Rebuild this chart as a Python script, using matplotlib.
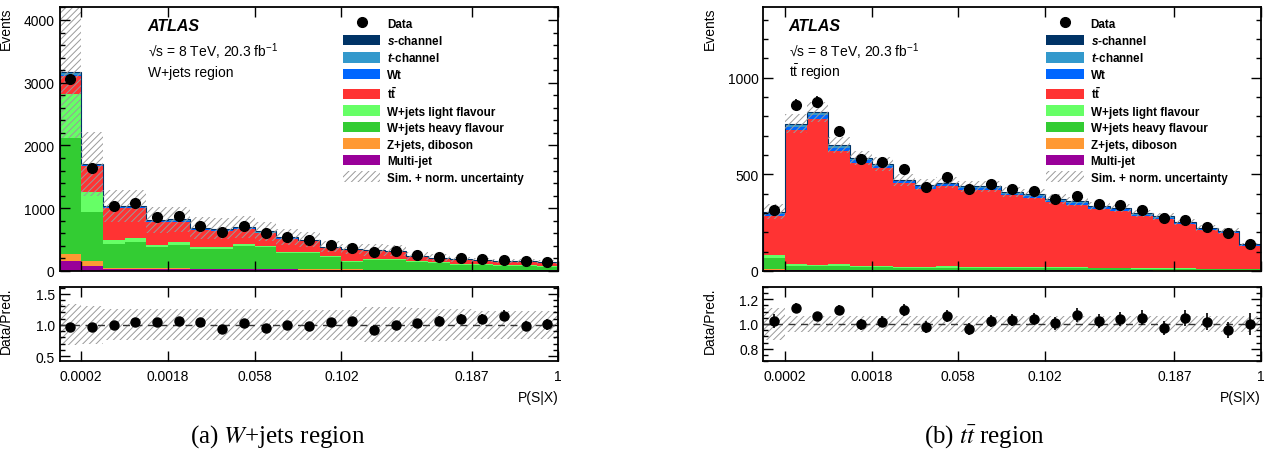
import numpy as np
import matplotlib
matplotlib.use("Agg")
import matplotlib.pyplot as plt
from matplotlib.patches import Patch
from matplotlib.lines import Line2D
from matplotlib.ticker import MultipleLocator, FixedLocator, NullLocator

plt.rcParams['font.family'] = ['Liberation Sans', 'DejaVu Sans']
plt.rcParams['mathtext.fontset'] = 'custom'
plt.rcParams['mathtext.rm'] = 'Liberation Sans'
plt.rcParams['mathtext.it'] = 'Liberation Sans:italic'
plt.rcParams['mathtext.bf'] = 'Liberation Sans:bold'
plt.rcParams['mathtext.bfit'] = 'Liberation Sans:italic:bold'
plt.rcParams['hatch.linewidth'] = 0.7

# x axis: 23 bins in bin-index space, labelled at some edges
edge_pos = [1, 5, 9, 13, 19, 23]
edge_labels = ['0.0002', '0.0018', '0.058', '0.102', '0.187', '1']

# ---- (a) W+jets region ----
wj_multijet = [155, 80, 30, 30, 28, 28, 25, 25, 25, 25, 22, 20, 18, 15, 14, 14, 12, 11, 10, 9, 8, 8, 7]
wj_zjets    = [110, 80, 15, 15, 12, 12, 10, 10, 10, 10, 10, 8, 8, 7, 7, 6, 5, 5, 4, 4, 4, 4, 3]
wj_wjets_hf = [1850, 783, 380, 420, 333, 370, 318, 318, 365, 338, 255, 250, 190, 125, 160, 160, 122, 105, 82, 80, 70, 68, 55]
wj_wjets_lf = [700, 319, 70, 55, 37, 53, 20, 20, 26, 27, 17, 15, 20, 15, 14, 15, 13, 13, 11, 10, 9, 9, 8]
wj_ttbar    = [290, 406, 500, 479, 367, 322, 279, 268, 242, 200, 205, 185, 130, 168, 118, 110, 77, 66, 65, 60, 55, 56, 58]
wj_wt       = [25, 16, 17, 16, 14, 14, 12, 12, 12, 11, 10, 9, 8, 7, 6, 6, 5, 5, 4, 4, 4, 4, 4]
wj_tchan    = [30, 20, 20, 18, 17, 17, 15, 15, 15, 14, 12, 11, 10, 9, 8, 8, 7, 6, 6, 5, 5, 5, 4]
wj_schan    = [8, 5, 3, 3, 3, 3, 3, 3, 3, 3, 2, 2, 2, 2, 2, 1, 1, 1, 1, 1, 1, 1, 1]
wj_data     = [3062, 1640, 1038, 1081, 853, 869, 709, 624, 719, 597, 533, 495, 405, 369, 303, 320, 249, 227, 200, 189, 179, 152, 141]
wj_unc      = [0.33, 0.30, 0.25, 0.25, 0.25, 0.25, 0.25, 0.25, 0.25, 0.25, 0.24, 0.24, 0.24, 0.24,
               0.28, 0.28, 0.27, 0.26, 0.25, 0.22, 0.22, 0.22, 0.22]

# ---- (b) ttbar region ----
tt_multijet = [4, 3, 3, 3, 2, 2, 2, 2, 2, 2, 2, 2, 2, 2, 2, 2, 2, 2, 1, 1, 1, 1, 1]
tt_zjets    = [5, 4, 4, 4, 3, 3, 3, 3, 3, 3, 3, 3, 3, 3, 3, 3, 3, 2, 2, 2, 2, 2, 2]
tt_wjets_hf = [60, 18, 16, 20, 14, 14, 12, 10, 12, 10, 10, 10, 12, 9, 9, 8, 8, 8, 7, 7, 6, 6, 5]
tt_wjets_lf = [12, 8, 6, 8, 6, 6, 5, 4, 6, 4, 5, 4, 5, 4, 4, 3, 3, 3, 3, 3, 2, 2, 2]
tt_ttbar    = [204, 695, 757, 586, 534, 505, 430, 407, 414, 400, 399, 371, 357, 337, 325, 305, 295, 269, 256, 228, 201, 185, 120]
tt_wt       = [10, 18, 20, 16, 14, 13, 11, 11, 11, 10, 10, 10, 9, 9, 8, 8, 8, 7, 7, 6, 5, 5, 3]
tt_tchan    = [10, 12, 12, 10, 8, 8, 7, 7, 7, 7, 7, 6, 6, 6, 6, 5, 5, 5, 5, 4, 4, 4, 3]
tt_schan    = [2, 3, 3, 3, 2, 2, 2, 2, 2, 2, 2, 2, 2, 2, 2, 2, 2, 2, 1, 1, 1, 1, 1]
tt_data     = [314, 860, 874, 724, 581, 564, 526, 435, 487, 421, 447, 422, 412, 374, 385, 344, 339, 313, 273, 265, 226, 196, 137]
tt_unc      = [0.13, 0.065, 0.065, 0.065, 0.065, 0.065, 0.065, 0.065, 0.065, 0.065, 0.065, 0.065,
               0.065, 0.065, 0.065, 0.065, 0.065, 0.065, 0.065, 0.065, 0.065, 0.065, 0.065]

colors = ['#990099', '#ff9933', '#33cc33', '#66ff66', '#ff3333', '#0066ff', '#3399cc', '#003366']
leg_labels = [r'$\mathbfit{s}$-channel', r'$\mathbfit{t}$-channel', 'Wt', r'$\mathbf{t\bar{t}}$',
              'W+jets light flavour', 'W+jets heavy flavour', 'Z+jets, diboson', 'Multi-jet']
leg_colors = ['#003366', '#3399cc', '#0066ff', '#ff3333', '#66ff66', '#33cc33', '#ff9933', '#990099']
hatch_col = '#9a9a9a'


def style_axis(ax):
    ax.tick_params(which='both', direction='in', top=True, right=True, labelsize=10)
    ax.tick_params(which='major', length=7, width=1)
    ax.tick_params(which='minor', length=3.5, width=1)
    for sp in ax.spines.values():
        sp.set_linewidth(1.3)


def draw_region(fig, rect_main, rect_ratio, comps, data, unc, ymax, ymajor, yminor,
                rlim, rticks, rminor, region_text, x0):
    ax = fig.add_axes(rect_main)
    axr = fig.add_axes(rect_ratio)
    n = len(data)
    edges = np.arange(n + 1)
    centers = edges[:-1] + 0.5

    bottom = np.zeros(n)
    for vals, c in zip(comps, colors):
        top = bottom + np.array(vals, dtype=float)
        ax.stairs(top, edges, baseline=bottom, fill=True, color=c, linewidth=0)
        bottom = top
    total = bottom
    ax.stairs(total, edges, color='#003366', linewidth=0.8)

    unc = np.array(unc)
    ax.stairs(total * (1 + unc), edges, baseline=total * (1 - unc), fill=True,
              facecolor='none', edgecolor=hatch_col, hatch='/////', linewidth=0)

    data = np.array(data, dtype=float)
    ax.errorbar(centers, data, yerr=np.sqrt(data), fmt='o', color='k', ms=7,
                elinewidth=1.2, capsize=0)

    ax.set_xlim(0, n)
    ax.set_ylim(0, ymax)
    ax.yaxis.set_major_locator(MultipleLocator(ymajor))
    ax.yaxis.set_minor_locator(MultipleLocator(yminor))
    ax.xaxis.set_major_locator(FixedLocator(edge_pos))
    ax.xaxis.set_minor_locator(NullLocator())
    ax.set_xticklabels([])
    style_axis(ax)
    ax.set_ylabel('Events', loc='top', fontsize=10)
    ax.yaxis.set_label_coords(-0.093, 1.0)

    ax.text(x0, 0.93, 'ATLAS', transform=ax.transAxes, fontsize=11.5,
            fontweight='bold', fontstyle='italic', va='center')
    ax.text(x0, 0.835, '\u221as = 8 TeV, 20.3 fb$^{-1}$', transform=ax.transAxes,
            fontsize=10, va='center')
    ax.text(x0, 0.755, region_text, transform=ax.transAxes, fontsize=10, va='center')

    handles = [Line2D([], [], marker='o', color='k', ls='none', ms=7)]
    labels = ['Data']
    for lab, c in zip(leg_labels, leg_colors):
        handles.append(Patch(facecolor=c, edgecolor='none'))
        labels.append(lab)
    handles.append(Patch(facecolor='white', edgecolor=hatch_col, hatch='/////', linewidth=0))
    labels.append('Sim. + norm. uncertainty')
    ax.legend(handles, labels, loc='upper left', bbox_to_anchor=(0.552, 0.99),
              frameon=False, prop={'weight': 'bold', 'size': 8.4}, handlelength=3.2,
              handleheight=1.0, labelspacing=0.37, handletextpad=0.6, borderpad=0.2)

    # ratio panel
    axr.stairs(1 + unc, edges, baseline=1 - unc, fill=True, facecolor='none',
               edgecolor=hatch_col, hatch='/////', linewidth=0)
    axr.axhline(1.0, color='#333333', ls=(0, (5, 4)), lw=1)
    ratio = data / total
    axr.errorbar(centers, ratio, yerr=np.sqrt(data) / total, fmt='o', color='k', ms=6.5,
                 elinewidth=1.2, capsize=0)
    axr.set_xlim(0, n)
    axr.set_ylim(*rlim)
    axr.yaxis.set_major_locator(FixedLocator(rticks))
    axr.yaxis.set_minor_locator(MultipleLocator(rminor))
    axr.xaxis.set_major_locator(FixedLocator(edge_pos))
    axr.xaxis.set_minor_locator(NullLocator())
    axr.set_xticklabels(edge_labels)
    axr.set_yticklabels(['%.1f' % t for t in rticks])
    style_axis(axr)
    axr.tick_params(axis='x', which='major', pad=6)
    axr.set_ylabel('Data/Pred.', loc='top', fontsize=10)
    axr.yaxis.set_label_coords(-0.093, 1.0)
    axr.set_xlabel('P(S|X)', loc='right', fontsize=10, labelpad=5)


fig = plt.figure(figsize=(12.66, 4.6), dpi=100)

wj_comps = [wj_multijet, wj_zjets, wj_wjets_hf, wj_wjets_lf, wj_ttbar, wj_wt, wj_tchan, wj_schan]
tt_comps = [tt_multijet, tt_zjets, tt_wjets_hf, tt_wjets_lf, tt_ttbar, tt_wt, tt_tchan, tt_schan]

draw_region(fig, [0.047, 0.409, 0.394, 0.574], [0.047, 0.213, 0.394, 0.161],
            wj_comps, wj_data, wj_unc, 4210, 1000, 200,
            (0.42, 1.61), [0.5, 1.0, 1.5], 0.1, 'W+jets region', 0.177)
draw_region(fig, [0.603, 0.409, 0.393, 0.574], [0.603, 0.213, 0.393, 0.161],
            tt_comps, tt_data, tt_unc, 1366, 500, 100,
            (0.7, 1.3), [0.8, 1.0, 1.2], 0.05, r'$\mathrm{t\bar{t}}$ region', 0.051)

fig.text(0.2196, 0.05, '(a) $W$+jets region', ha='center', va='center', fontsize=18,
         family='Liberation Serif', math_fontfamily='stix')
fig.text(0.778, 0.05, r'(b) $t\bar{t}$ region', ha='center', va='center', fontsize=18,
         family='Liberation Serif', math_fontfamily='stix')

fig.savefig('out.png', dpi=100)
